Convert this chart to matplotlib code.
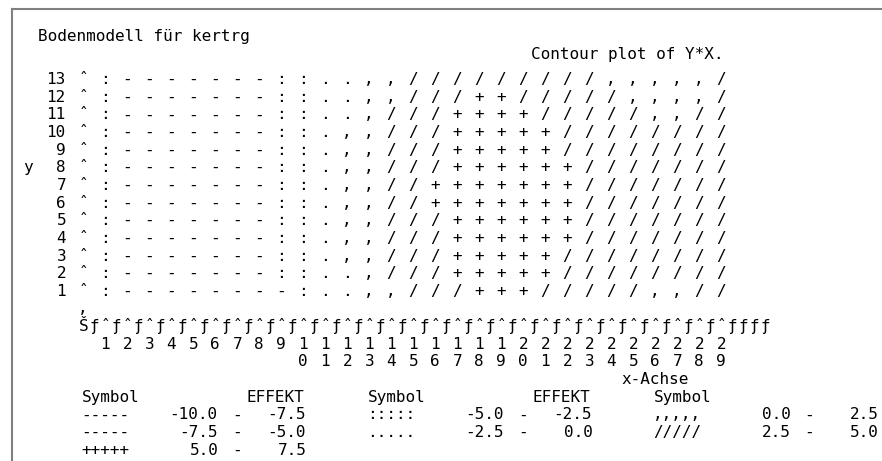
import matplotlib

matplotlib.use("Agg")
import matplotlib.pyplot as plt
from matplotlib.lines import Line2D

# --- data ---
title = "Bodenmodell für kertrg"
subtitle = "Contour plot of Y*X."
x_label = "x-Achse"
y_label = "y"

x_values = list(range(1, 30))
y_values = list(range(13, 0, -1))

# one symbol per x (1..29) for each y, top row is y=13
grid_rows = [
    ":-------::..,,/////////,,,,,/",
    ":-------::..,,///++/////,,,,/",
    ":-------::..,///++++/////,,//",
    ":-------::.,,///+++++////////",
    ":-------::.,,///+++++////////",
    ":-------::.,,///++++++///////",
    ":-------::.,,//+++++++///////",
    ":-------::.,,//+++++++///////",
    ":-------::.,,///++++++///////",
    ":-------::.,,///++++++///////",
    ":-------::.,,///+++++////////",
    ":-------::..,///+++++////////",
    ":--------:..,,///+++/////,,//",
]

level_symbols = ["-----", "-----", ":::::", ".....", ",,,,,", "/////", "+++++"]
level_low = [-10.0, -7.5, -5.0, -2.5, 0.0, 2.5, 5.0]
level_high = [-7.5, -5.0, -2.5, 0.0, 2.5, 5.0, 7.5]
# (legend line, legend group) where each level is printed
level_slots = [(0, 0), (1, 0), (0, 1), (1, 1), (0, 2), (1, 2), (2, 0)]

# --- layout: text grid of the listing ---
W, H, DPI = 882, 461, 100
CW = 11.0  # px per character column
LH = 17.65  # px per text line
X1_PX = 105.2  # centre of the x=1 column
Y1_PX = 290.0  # centre of the y=1 row
BASE = 0.33  # cap centre above baseline, in lines

font = dict(family="DejaVu Sans Mono", fontsize=11.5, color="black")

fig = plt.figure(figsize=(W / DPI, H / DPI), dpi=DPI)
ax = fig.add_axes([0, 0, 1, 1])
ax.set_xlim(1 - X1_PX / (2 * CW), 1 + (W - X1_PX) / (2 * CW))
ax.set_ylim(1 - (H - Y1_PX) / LH, 1 + Y1_PX / LH)
ax.axis("off")


def col_x(col):
    # character column -> x data coordinate (col 5 is the y axis)
    return (col - 5) / 2


def put(text, col, y):
    # text starting at character column col, centred over its span
    ax.text(col_x(col + (len(text) - 1) / 2), y - BASE, text,
            ha="center", va="baseline", **font)


def put_right(text, end_col, y):
    put(text, end_col - len(text) + 1, y)


# titles
put(title, 0, 1 + (Y1_PX - 35) / LH)
put(subtitle, 45, 1 + (Y1_PX - 53) / LH)

# contour symbols
for y, row in zip(y_values, grid_rows):
    for x, sym in zip(x_values, row):
        put(sym, 5 + 2 * x, y)

# y axis
for y in y_values:
    put_right(str(y), 3, y)
    put("ˆ", 5, y)
put(y_label, 0, 8)
put("‚", 5, 0)

# x axis line and tick labels
axis_y = -1
put("Š", 5, axis_y)
for x in x_values:
    put("ƒ", 4 + 2 * x, axis_y)
    put("ˆ", 5 + 2 * x, axis_y)
for c in range(64, 68):
    put("ƒ", c, axis_y)
for x in x_values:
    label = str(x)
    put(label[0], 5 + 2 * x, axis_y - 1)
    if len(label) > 1:
        put(label[1], 5 + 2 * x, axis_y - 2)
put(x_label, 54, axis_y - 3)

# legend
legend_y = axis_y - 4
for g in range(3):
    put("Symbol", 5 + 26 * g, legend_y)
for g in range(2):
    put("EFFEKT", 20 + 26 * g, legend_y)
for sym, lo, hi, (line, g) in zip(level_symbols, level_low, level_high, level_slots):
    ly = legend_y - 1 - line
    put(sym, 5 + 26 * g, ly)
    put_right(f"{lo:.1f}", 17 + 26 * g, ly)
    put("-", 19 + 26 * g, ly)
    put_right(f"{hi:.1f}", 25 + 26 * g, ly)

# listing frame (cut off at the right and bottom)
frame = dict(color="#808080", lw=1.5, transform=fig.transFigure)
fig.add_artist(Line2D([11.7 / W, 1], [1 - 9.3 / H] * 2, **frame))
fig.add_artist(Line2D([11.7 / W] * 2, [0, 1 - 9.3 / H], **frame))

fig.savefig("out.png", dpi=DPI)
